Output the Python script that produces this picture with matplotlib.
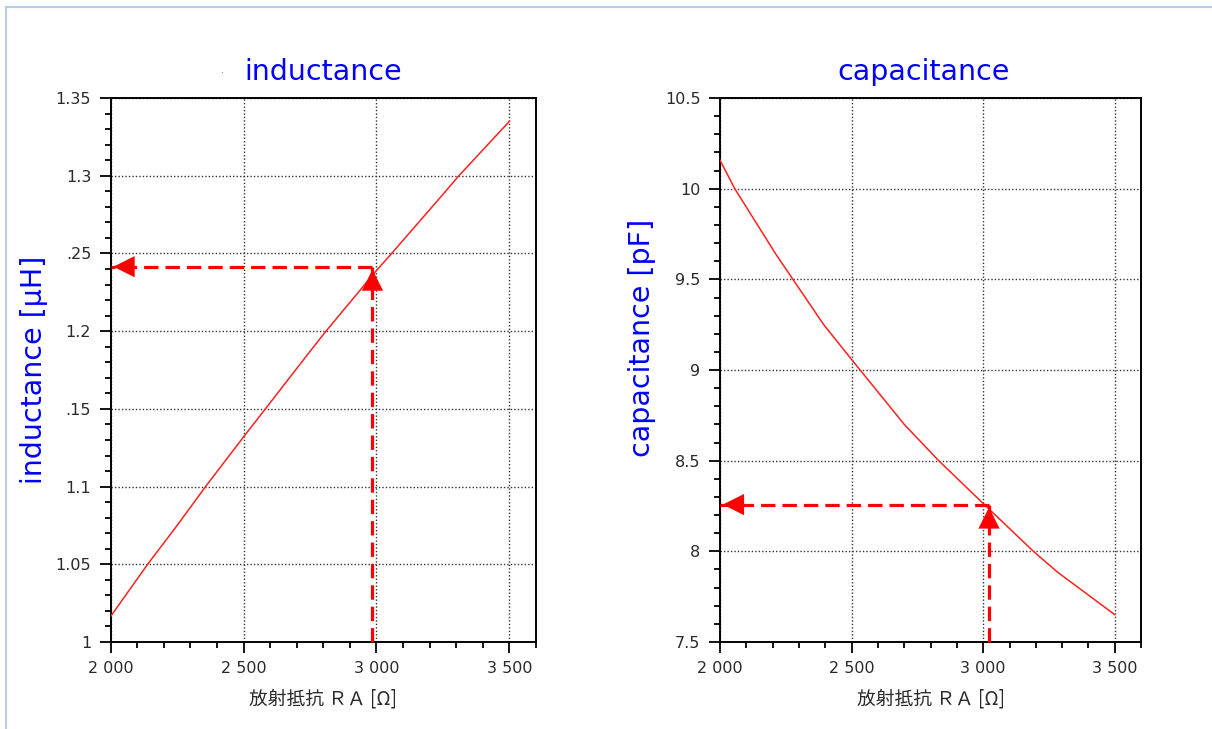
import numpy as np
import matplotlib
matplotlib.use("Agg")
import matplotlib.pyplot as plt
from matplotlib.ticker import MultipleLocator, FixedLocator, FixedFormatter
from matplotlib.lines import Line2D

# --- data -----------------------------------------------------------------
ra_ind = [2000, 2139, 2250, 2357, 2500, 2582, 2750, 2810, 3000, 3057, 3250, 3310, 3500]
inductance = [1.0165, 1.05, 1.075, 1.1, 1.132, 1.15, 1.187, 1.2, 1.239, 1.25,
              1.288, 1.3, 1.335]                                   # [uH]
ra_cap = [2000, 2056, 2212, 2277, 2394, 2500, 2700, 2831, 3000, 3191, 3281, 3500]
capacitance = [10.157, 10.0, 9.639, 9.5, 9.25, 9.058, 8.70, 8.5, 8.264, 8.0,
               7.887, 7.651]                                       # [pF]

ind_ticks = [1.0, 1.05, 1.1, 1.15, 1.2, 1.25, 1.3, 1.35]
ind_ticklabels = ["1", "1.05", "1.1", ".15", "1.2", ".25", "1.3", "1.35"]
cap_ticks = [7.5, 8.0, 8.5, 9.0, 9.5, 10.0, 10.5]
cap_ticklabels = ["7.5", "8", "8.5", "9", "9.5", "10", "10.5"]
x_ticks = [2000, 2500, 3000, 3500]
x_ticklabels = ["2 000", "2 500", "3 000", "3 500"]

ind_pick = (2985, 1.2415)      # read-off point, left panel
cap_pick = (3022, 8.258)       # read-off point, right panel

BLUE = "#0000ff"
RED = "#ff2020"
XLABEL = "放射抵抗 ＲＡ [Ω]"

fig = plt.figure(figsize=(12.12, 7.29), dpi=100)
ax1 = fig.add_axes([0.0913, 0.1193, 0.3509, 0.7462])
ax2 = fig.add_axes([0.5941, 0.1193, 0.3474, 0.7462])

def style(ax, yticks, ylabels, ylim, ymin):
    ax.set_xlim(2000, 3600)
    ax.set_ylim(*ylim)
    ax.xaxis.set_major_locator(FixedLocator(x_ticks))
    ax.xaxis.set_major_formatter(FixedFormatter(x_ticklabels))
    ax.xaxis.set_minor_locator(MultipleLocator(100))
    ax.yaxis.set_major_locator(FixedLocator(yticks))
    ax.yaxis.set_major_formatter(FixedFormatter(ylabels))
    ax.yaxis.set_minor_locator(MultipleLocator(ymin))
    ax.tick_params(which="major", direction="out", length=8, width=1.3,
                   labelsize=11.5, labelcolor="#2a2a2a", pad=6)
    ax.tick_params(which="minor", direction="out", length=4, width=1.3)
    ax.tick_params(top=False, right=False, which="both")
    for s in ax.spines.values():
        s.set_linewidth(1.4)
    ax.grid(True, which="major", color="#333333", linestyle=(0, (1, 1.5)), lw=1.0)
    ax.set_axisbelow(True)
    ax.set_xlabel(XLABEL, fontsize=13.5, color="#2a2a2a",
                  family=["Noto Sans CJK JP", "DejaVu Sans"], labelpad=9)

def pick_arrows(ax, pt, xmin, ymin):
    x, y = pt
    dash = (0, (4.5, 2.2))
    ax.plot([x, x], [ymin, y], color="red", lw=2.3, linestyle=dash,
            clip_on=False, zorder=4)
    ax.plot([x, xmin], [y, y], color="red", lw=2.3, linestyle=dash,
            clip_on=False, zorder=4)
    head = dict(arrowstyle="-|>,head_width=0.45,head_length=0.9",
                color="red", lw=0, mutation_scale=17)
    ax.annotate("", xy=(x, y), xytext=(0, -14), textcoords="offset points",
                arrowprops=head, zorder=5)
    ax.annotate("", xy=(xmin, y), xytext=(14, 0), textcoords="offset points",
                arrowprops=head, zorder=5)

# --- left: inductance -------------------------------------------------------
style(ax1, ind_ticks, ind_ticklabels, (1.0, 1.35), 0.01)
ax1.plot(ra_ind, inductance, color=RED, lw=1.1, zorder=3)
pick_arrows(ax1, ind_pick, 2000, 1.0)
ax1.set_title("inductance", color=BLUE, fontsize=20.5, pad=13)
ax1.set_ylabel("inductance [µH]", color=BLUE, fontsize=20.5)
ax1.yaxis.set_label_coords(-0.147, 0.5)

# --- right: capacitance -----------------------------------------------------
style(ax2, cap_ticks, cap_ticklabels, (7.5, 10.5), 0.1)
ax2.plot(ra_cap, capacitance, color=RED, lw=1.1, zorder=3)
pick_arrows(ax2, cap_pick, 2000, 7.5)
ax2.set_title("capacitance", color=BLUE, fontsize=20.5, pad=13, x=0.483)
ax2.set_ylabel("capacitance [pF]", color=BLUE, fontsize=20.5)
ax2.yaxis.set_label_coords(-0.152, 0.56)

# stray dot before the left title, and the light blue page frame
fig.text(222 / 1212, 1 - 73 / 729, "·", fontsize=7, color="#777777",
         ha="center", va="center")
frame = "#b8cbe8"
fig.add_artist(Line2D([6 / 1212, 1], [1 - 6.5 / 729] * 2, color=frame, lw=1.5))
fig.add_artist(Line2D([6 / 1212] * 2, [0, 1 - 6.5 / 729], color=frame, lw=1.5))

fig.savefig("out.png", dpi=100)
